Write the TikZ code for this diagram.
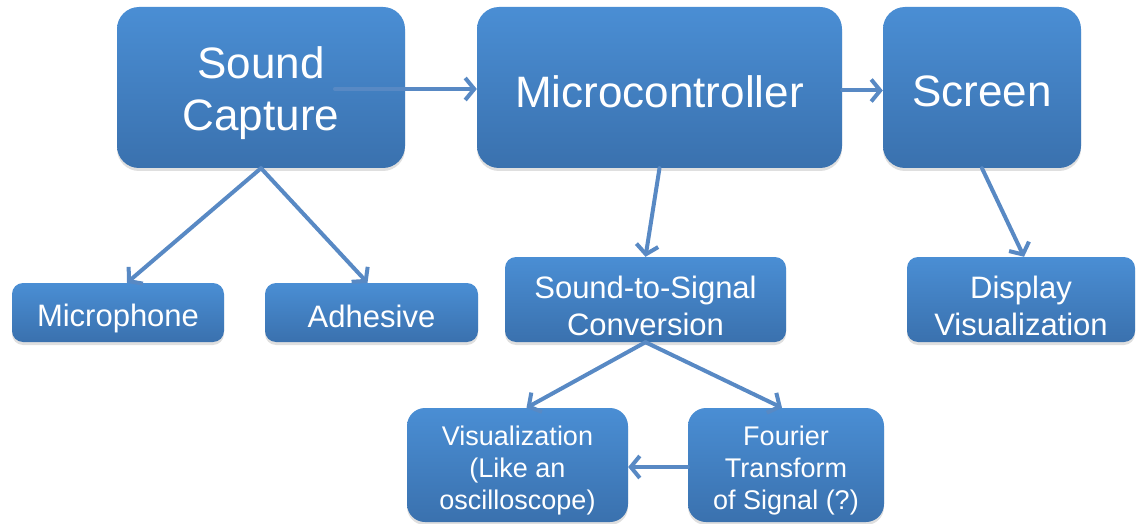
\documentclass[tikz,border=0pt]{standalone}
\usepackage{fontspec}
\setmainfont{Liberation Sans}
\usepackage{tikz}
\usepackage{xcolor}
\usetikzlibrary{arrows.meta, positioning, shadows}

\definecolor{boxtop}{RGB}{74,142,212}
\definecolor{boxbot}{RGB}{58,113,174}
\definecolor{arrowblue}{RGB}{88,137,196}

\tikzset{
    box/.style={draw=none, top color=boxtop, bottom color=boxbot, inner sep=0pt,
        drop shadow={shadow xshift=0pt, shadow yshift=-3pt, opacity=0.25}},
    boxtext/.style={text=white, align=center, inner sep=0pt, yshift=-6pt},
    bigbox/.style={box, rounded corners=22pt},
    midbox/.style={box, rounded corners=11pt},
    lowbox/.style={box, rounded corners=18pt},
    bigtext/.style={boxtext, font=\fontsize{44}{52}\selectfont},
    midtext/.style={boxtext, font=\fontsize{31}{37}\selectfont},
    lowtext/.style={boxtext, font=\fontsize{27}{32}\selectfont},
    link/.style={draw=arrowblue, line width=4pt, line cap=round,
        -{Straight Barb[length=9pt, width=22pt, line width=4pt]}}
}

\begin{document}
\begin{tikzpicture}[x=1pt, y=-1pt]
    \useasboundingbox (0,0) rectangle (1136,524);

    % Top row
    \node[bigbox, minimum width=288pt, minimum height=161pt,
        label={[bigtext]center:{Sound\\Capture}}] (sound) at (261,87.5) {};
    \node[bigbox, minimum width=365pt, minimum height=161pt,
        label={[bigtext, yshift=2pt]center:{Microcontroller}}] (micro) at (659.5,87.5) {};
    \node[bigbox, minimum width=198pt, minimum height=161pt,
        label={[bigtext, yshift=2pt]center:{Screen}}] (screen) at (982,87.5) {};

    % Middle row
    \node[midbox, minimum width=212pt, minimum height=59pt,
        label={[midtext]center:{Microphone}}] (mic) at (118,312.5) {};
    \node[midbox, minimum width=213pt, minimum height=59pt,
        label={[midtext, yshift=2pt]center:{Adhesive}}] (glue) at (371.5,312.5) {};
    \node[midbox, minimum width=281pt, minimum height=85pt,
        label={[midtext]center:{Sound-to-Signal\\Conversion}}] (convert) at (645.5,299.5) {};
    \node[midbox, minimum width=228pt, minimum height=85pt,
        label={[midtext]center:{Display\\Visualization}}] (display) at (1021,299.5) {};

    % Bottom row
    \node[lowbox, minimum width=221pt, minimum height=114pt,
        label={[lowtext]center:{Visualization\\(Like an\\oscilloscope)}}] (scope) at (517.5,465) {};
    \node[lowbox, minimum width=196pt, minimum height=114pt,
        label={[lowtext]center:{Fourier\\Transform\\of Signal (?)}}] (fourier) at (786,465) {};

    % Arrows
    \coordinate (soundout) at (335,89);
    \draw[link] (soundout) -- (micro.west |- soundout);
    \draw[link] ([yshift=-3pt]micro.east) -- ([yshift=-3pt]screen.west);
    \draw[link] (sound.south) -- ([xshift=9pt]mic.north);
    \draw[link] (sound.south) -- ([xshift=-4pt]glue.north);
    \draw[link] (micro.south) -- (convert.north);
    \draw[link] (screen.south) -- ([xshift=3pt]display.north);
    \draw[link] (convert.south) -- ([xshift=9pt]scope.north);
    \draw[link] (convert.south) -- ([xshift=-4pt]fourier.north);
    \draw[link] ([yshift=-2pt]fourier.west) -- ([yshift=-2pt]scope.east);
\end{tikzpicture}
\end{document}
